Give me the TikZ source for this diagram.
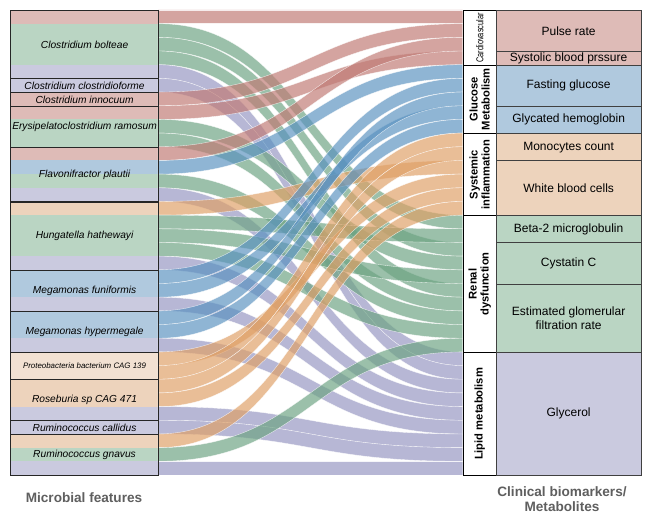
\documentclass[tikz,border=0pt]{standalone}
\usepackage{fontspec}
\setmainfont{Liberation Sans}
\begin{document}
\begin{tikzpicture}[x=1pt,y=-1pt]
% flow colours (used with opacity)
\definecolor{fr}{RGB}{192,122,116}
\definecolor{fg}{RGB}{108,163,130}
\definecolor{fb}{RGB}{90,146,192}
\definecolor{fo}{RGB}{224,160,102}
\definecolor{fp}{RGB}{150,150,194}
% box colours
\definecolor{br}{RGB}{222,187,183}
\definecolor{bg}{RGB}{186,213,195}
\definecolor{bb}{RGB}{176,201,222}
\definecolor{bo}{RGB}{237,211,188}
\definecolor{bp}{RGB}{202,202,223}
\definecolor{bP}{RGB}{242,225,210}
\definecolor{labgray}{RGB}{95,95,95}
\def\bh{13.676}
\tikzset{
  spbox/.style={draw=black!85, line width=1.1pt, inner sep=0pt, minimum width=148pt, anchor=north west, align=center, font=\fontsize{10.2}{12}\selectfont\itshape},
  bmbox/.style={draw=black!75, line width=0.9pt, inner sep=0pt, minimum width=145pt, anchor=north west, align=center, font=\fontsize{12}{14.5}\selectfont},
  catbox/.style={draw=black, line width=1pt, fill=white, inner sep=0pt, minimum width=33pt, anchor=north west},
  cattext/.style={rotate=90, align=center, font=\fontsize{11.2}{12}\selectfont\bfseries},
  flowst/.style={fill opacity=0.68, draw=white, draw opacity=0.8, line width=0.35pt},
  axlab/.style={text=labgray, align=center, font=\fontsize{13.6}{15.5}\selectfont\bfseries}
}
\useasboundingbox (0,0) rectangle (661,518);
\fill[white] (0,0) rectangle (661,518);
% left band fills
\foreach \i/\c in {0/br,1/bg,2/bg,3/bg,4/bp,5/bp,6/br,7/br,8/bg,9/bg,10/br,11/bb,12/bg,13/bp,14/bo,15/bg,16/bg,17/bg,18/bp,19/bb,20/bb,21/bp,22/bb,23/bb,24/bp,25/bP,26/bP,27/bo,28/bo,29/bp,30/bp,31/bo,32/bg,33/bp}{
  \fill[\c] (10,{10+\i*\bh}) rectangle (158,{10+(\i+1)*\bh});
}
% flows
\foreach \l/\r/\c in {0/0/fr,1/15/fg,2/17/fg,3/20/fg,4/25/fp,5/26/fp,6/1/fr,7/3/fr,8/18/fg,9/21/fg,10/2/fr,11/4/fb,12/22/fg,13/27/fp,14/11/fo,15/16/fg,16/19/fg,17/23/fg,18/28/fp,19/5/fb,20/7/fb,21/29/fp,22/6/fb,23/8/fb,24/30/fp,25/12/fo,26/9/fo,27/10/fo,28/13/fo,29/31/fp,30/32/fp,31/14/fo,32/24/fg,33/33/fp}{
  \pgfmathsetmacro\ya{10+\l*\bh}
  \pgfmathsetmacro\yb{10+\r*\bh}
  \pgfmathsetmacro\yc{\ya+\bh}
  \pgfmathsetmacro\yd{\yb+\bh}
  \path[flowst, fill=\c] (158,\ya) .. controls (310.35,\ya) and (310.35,\yb) .. (462.7,\yb) -- (462.7,\yd) .. controls (310.35,\yd) and (310.35,\yc) .. (158,\yc) -- cycle;
}
% left species boxes
\node[spbox, minimum height={5*\bh}] (bolteae) at (10,{10+0*\bh}) {Clostridium bolteae};
\node[spbox, minimum height={1*\bh}] (clostridioforme) at (10,{10+5*\bh}) {Clostridium clostridioforme};
\node[spbox, minimum height={1*\bh}] (innocuum) at (10,{10+6*\bh}) {Clostridium innocuum};
\node[spbox, minimum height={3*\bh}] (ramosum) at (10,{10+7*\bh}) {Erysipelatoclostridium ramosum};
\node[spbox, minimum height={4*\bh}] (plautii) at (10,{10+10*\bh}) {Flavonifractor plautii};
\node[spbox, minimum height={5*\bh}] (hathewayi) at (10,{10+14*\bh}) {Hungatella hathewayi};
\node[spbox, minimum height={3*\bh}] (funiformis) at (10,{10+19*\bh}) {Megamonas funiformis};
\node[spbox, minimum height={3*\bh}] (hypermegale) at (10,{10+22*\bh}) {Megamonas hypermegale};
\node[spbox, minimum height={2*\bh}, font=\fontsize{7.9}{9}\selectfont\itshape] (proteo) at (10,{10+25*\bh}) {Proteobacteria bacterium CAG 139};
\node[spbox, minimum height={3*\bh}] (roseburia) at (10,{10+27*\bh}) {Roseburia sp CAG 471};
\node[spbox, minimum height={1*\bh}] (callidus) at (10,{10+30*\bh}) {Ruminococcus callidus};
\node[spbox, minimum height={3*\bh}] (gnavus) at (10,{10+31*\bh}) {Ruminococcus gnavus};
% right category boxes
\node[catbox, minimum height={4*\bh}] (cardio) at (462.7,{10+0*\bh}) {};
\node[catbox, minimum height={5*\bh}] (glucose) at (462.7,{10+4*\bh}) {};
\node[catbox, minimum height={6*\bh}] (systemic) at (462.7,{10+9*\bh}) {};
\node[catbox, minimum height={10*\bh}] (renal) at (462.7,{10+15*\bh}) {};
\node[catbox, minimum height={9*\bh}] (lipid) at (462.7,{10+25*\bh}) {};
\node[rotate=90, font=\fontsize{10}{11}\selectfont] (cardiot) at (cardio.center) {\scalebox{0.74}[1]{Cardiovascular}};
\node[cattext] (glucoset) at (glucose.center) {Glucose\\Metabolism};
\node[cattext] (systemict) at (systemic.center) {Systemic\\inflammation};
\node[cattext] (renalt) at (renal.center) {Renal\\dysfunction};
\node[cattext] (lipidt) at (lipid.center) {Lipid metabolism};
% biomarker boxes
\node[bmbox, fill=br, minimum height={3*\bh}] (pulse) at (495.7,{10+0*\bh}) {Pulse rate};
\node[bmbox, fill=br, minimum height={1*\bh}] (systolic) at (495.7,{10+3*\bh}) {Systolic blood prssure};
\node[bmbox, fill=bb, minimum height={3*\bh}] (fasting) at (495.7,{10+4*\bh}) {Fasting glucose};
\node[bmbox, fill=bb, minimum height={2*\bh}] (glycated) at (495.7,{10+7*\bh}) {Glycated hemoglobin};
\node[bmbox, fill=bo, minimum height={2*\bh}] (monocytes) at (495.7,{10+9*\bh}) {Monocytes count};
\node[bmbox, fill=bo, minimum height={4*\bh}] (wbc) at (495.7,{10+11*\bh}) {White blood cells};
\node[bmbox, fill=bg, minimum height={2*\bh}] (beta) at (495.7,{10+15*\bh}) {Beta-2 microglobulin};
\node[bmbox, fill=bg, minimum height={3*\bh}] (cystatin) at (495.7,{10+17*\bh}) {Cystatin C};
\node[bmbox, fill=bg, minimum height={5*\bh}] (egfr) at (495.7,{10+20*\bh}) {Estimated glomerular\\filtration rate};
\node[bmbox, fill=bp, minimum height={9*\bh}] (glycerol) at (495.7,{10+25*\bh}) {Glycerol};
% axis labels
\node[axlab] (microlab) at (84,498) {Microbial features};
\node[axlab] (clinlab) at (562,499) {Clinical biomarkers/\\Metabolites};
\end{tikzpicture}
\end{document}
